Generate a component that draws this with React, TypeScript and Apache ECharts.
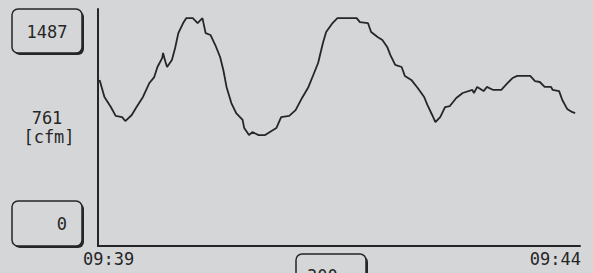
import React, { useEffect, useRef } from "react";
import * as echarts from "echarts";

// time in seconds after 09:39
const times = [1, 4, 8, 11, 15, 17, 21, 24, 28, 32, 35, 37, 40, 40.5, 42, 43, 46, 48, 50, 53, 55, 59, 62, 65, 67, 70, 73, 76, 78, 80, 83, 86, 90, 91, 94, 96, 100, 104, 108, 111, 114, 119, 123, 127, 131, 134, 137, 140, 142, 146, 149, 161, 163, 168, 170, 174, 177, 180, 182, 185, 189, 191, 195, 199, 203, 205, 208, 210, 213, 216, 219, 223, 227, 233, 234, 236, 240, 242, 246, 251, 255, 258, 261, 269, 272, 275, 278, 282, 283, 287, 289, 292, 295, 297];
const airflow = [1042, 935, 872, 816, 809, 784, 822, 872, 935, 1023, 1060, 1123, 1180, 1211, 1154, 1123, 1167, 1242, 1336, 1399, 1430, 1430, 1399, 1430, 1336, 1324, 1261, 1186, 1104, 998, 897, 834, 791, 740, 696, 715, 696, 696, 722, 740, 809, 816, 853, 929, 998, 1073, 1148, 1274, 1343, 1399, 1430, 1430, 1405, 1399, 1343, 1311, 1292, 1249, 1198, 1136, 1123, 1067, 1042, 991, 935, 885, 822, 778, 809, 872, 878, 929, 960, 979, 960, 998, 972, 998, 979, 979, 1023, 1054, 1067, 1067, 1035, 1029, 998, 998, 979, 972, 916, 860, 841, 834];

const yMax = 1487;
const yMin = 0;
const yMid = "761";
const unit = "[cfm]";
const xTickLabels = ["09:39", "09:44"];
const xSpan = 300;
const windowLabel = "300";

const BG = "#d5d6d8";
const INK = "#262626";
const FONT = "DejaVu Sans Mono";

function box(x: number, y: number, w: number, h: number) {
  return [
    { type: "rect", shape: { x: x + 2, y: y + 2, width: w, height: h, r: 6 }, style: { fill: INK }, z: 10 },
    { type: "rect", shape: { x, y, width: w, height: h, r: 6 }, style: { fill: BG, stroke: INK, lineWidth: 1.5 }, z: 11 },
  ];
}

function txt(text: string, x: number, y: number, align: string, size = 17) {
  return {
    type: "text",
    x,
    y,
    z: 12,
    style: { text, fill: INK, font: `${size}px ${FONT}`, textAlign: align, textVerticalAlign: "middle" },
  };
}

export default function App() {
  const ref = useRef<HTMLDivElement>(null);
  useEffect(() => {
    document.body.style.background = BG;
    const chart = echarts.init(ref.current!, null, { renderer: "svg" });
    chart.setOption({
      animation: false,
      backgroundColor: BG,
      grid: { left: 98, top: 9, right: 13, bottom: 27 },
      xAxis: {
        type: "value",
        min: 0,
        max: xSpan,
        axisLine: { show: true, lineStyle: { color: INK, width: 2 } },
        axisTick: { show: false },
        axisLabel: { show: false },
        splitLine: { show: false },
      },
      yAxis: {
        type: "value",
        min: yMin,
        max: yMax,
        axisLine: { show: true, onZero: false, lineStyle: { color: INK, width: 2 } },
        axisTick: { show: false },
        axisLabel: { show: false },
        splitLine: { show: false },
      },
      series: [
        {
          type: "line",
          data: times.map((t, i) => [t, airflow[i]]),
          showSymbol: false,
          lineStyle: { color: INK, width: 1.8 },
        },
      ],
      graphic: [
        ...box(12, 9, 70, 44),
        txt(String(yMax), 47, 32, "center"),
        txt(yMid, 47, 118, "center"),
        txt(unit, 49, 137, "center", 17),
        ...box(12, 201, 70, 45),
        txt(String(yMin), 67, 224, "right"),
        txt(xTickLabels[0], 83, 259, "left"),
        txt(xTickLabels[1], 581, 259, "right"),
        ...box(296, 254, 70, 40),
        txt(windowLabel, 307, 276, "left"),
      ],
    });
    return () => chart.dispose();
  }, []);
  return <div ref={ref} style={{ position: "fixed", left: 0, top: 0, width: 593, height: 273 }} />;
}
